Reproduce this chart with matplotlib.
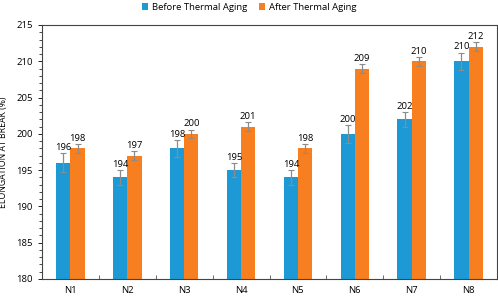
import numpy as np
import matplotlib.pyplot as plt
from matplotlib.ticker import MultipleLocator

samples = ['N1', 'N2', 'N3', 'N4', 'N5', 'N6', 'N7', 'N8']
before = [196, 194, 198, 195, 194, 200, 202, 210]
after = [198, 197, 200, 201, 198, 209, 210, 212]
before_err = [1.3, 1.0, 1.2, 1.0, 1.0, 1.2, 1.0, 1.2]
after_err = [0.6, 0.6, 0.6, 0.6, 0.6, 0.6, 0.6, 0.6]

plt.rcParams['font.family'] = ['Open Sans', 'DejaVu Sans']

fig = plt.figure(figsize=(4.98, 2.96), dpi=100)
ax = fig.add_axes([42 / 498, 17 / 296, 455 / 498, 254 / 296])

x = np.arange(len(samples))
w = 0.25
blue = '#1d9ad6'
orange = '#f77f1f'
ekw = dict(ecolor='#8c8c8c', elinewidth=0.9, capsize=2, capthick=0.8)

ax.bar(x - w / 2, before, w, color=blue, yerr=before_err, error_kw=ekw,
       label='Before Thermal Aging')
ax.bar(x + w / 2, after, w, color=orange, yerr=after_err, error_kw=ekw,
       label='After Thermal Aging')

for i in range(len(samples)):
    ax.text(x[i] - w / 2, before[i] + before_err[i] + 0.15, str(before[i]),
            ha='center', va='bottom', fontsize=6.8)
    ax.text(x[i] + w / 2, after[i] + after_err[i] + 0.15, str(after[i]),
            ha='center', va='bottom', fontsize=6.8)

ax.set_ylim(180, 215)
ax.set_xlim(-0.5, len(samples) - 0.5)
ax.yaxis.set_major_locator(MultipleLocator(5))
ax.yaxis.set_minor_locator(MultipleLocator(1))
ax.set_xticks(x)
ax.set_xticklabels(samples)
ax.set_xticks(np.arange(-0.5, len(samples), 1), minor=True)
ax.tick_params(axis='x', which='major', length=0, labelsize=6.8, pad=5)
ax.tick_params(axis='x', which='minor', direction='in', length=3, width=0.6,
               color='#555555')
ax.tick_params(axis='y', which='major', length=3, width=0.6, labelsize=6.8)
ax.tick_params(axis='y', which='minor', length=2, width=0.5)
for s in ax.spines.values():
    s.set_linewidth(0.8)
    s.set_color('#444444')

ax.set_ylabel('ELONGATION AT BREAK (%)', fontsize=6.3)
ax.yaxis.set_label_coords(-0.074, 0.5)

fig.legend(loc='upper center', bbox_to_anchor=(0.5, 1.02), ncol=2, frameon=False,
           fontsize=6.8, handlelength=0.7, handleheight=0.7, columnspacing=1.2,
           handletextpad=0.4)

fig.savefig('out.png', dpi=100)
